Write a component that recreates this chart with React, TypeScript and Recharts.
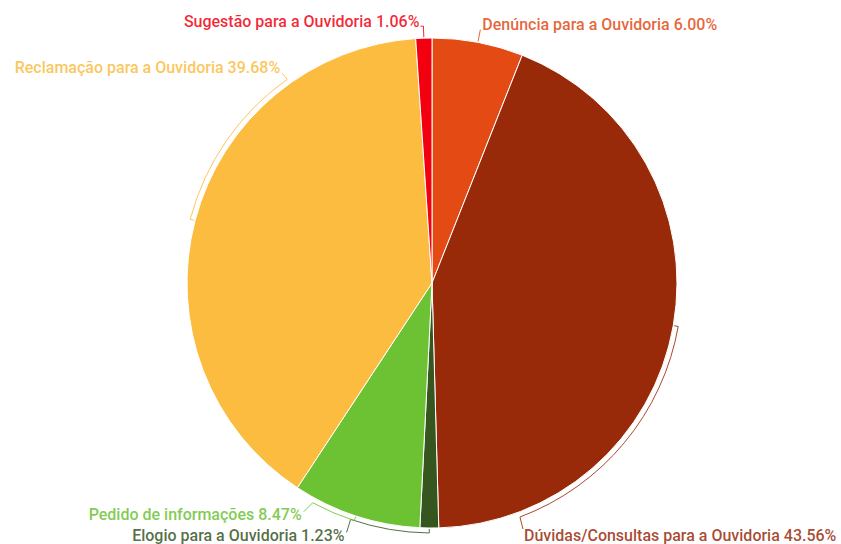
import React from 'react';
import { PieChart, Pie, Cell } from 'recharts';

const categories = [
  'Denúncia para a Ouvidoria',
  'Dúvidas/Consultas para a Ouvidoria',
  'Elogio para a Ouvidoria',
  'Pedido de informações',
  'Reclamação para a Ouvidoria',
  'Sugestão para a Ouvidoria',
];
const shares = [6.0, 43.56, 1.23, 8.47, 39.68, 1.06];
const sliceColors = ['#E34A14', '#982A0A', '#36561F', '#6CC233', '#FBBC40', '#F2000F'];

// label leader layout (angles clockwise from 12 o'clock)
const labelLayout = [
  { radial: 13, arcEnd: null, leader: [0, 0], text: [2, 0], anchor: 'start' },
  { radial: 5, arcEnd: 159.4, leader: [3, 12], text: [1, 12], anchor: 'start' },
  { radial: 5, arcEnd: 199, leader: [-4, 13], text: [-2, 9], anchor: 'end' },
  { radial: 5, arcEnd: 208.5, leader: [-9, 9], text: [-2, 8], anchor: 'end' },
  { radial: 5, arcEnd: 324.6, leader: [-5, -6], text: [-2, 0], anchor: 'end' },
  { radial: 12, arcEnd: null, leader: [-3, 0], text: [-1, 1], anchor: 'end' },
];

const data = categories.map((name, i) => ({ name, value: shares[i] }));

const pt = (cx: number, cy: number, r: number, deg: number) => {
  const a = (deg * Math.PI) / 180;
  return [cx + r * Math.sin(a), cy - r * Math.cos(a)];
};

const renderLabel = (props: any) => {
  const { cx, cy, midAngle, outerRadius, index } = props;
  const lay = labelLayout[index];
  const color = sliceColors[index];
  let theta = 90 - midAngle;
  theta = ((theta % 360) + 360) % 360;
  const r0 = outerRadius + 1;
  const R = outerRadius + lay.radial;
  const p0 = pt(cx, cy, r0, theta);
  const p1 = pt(cx, cy, R, theta);
  let d = `M${p0[0]},${p0[1]} L${p1[0]},${p1[1]}`;
  let end = p1;
  if (lay.arcEnd !== null) {
    const p2 = pt(cx, cy, R, lay.arcEnd as number);
    const sweep = (lay.arcEnd as number) > theta ? 1 : 0;
    const large = Math.abs((lay.arcEnd as number) - theta) > 180 ? 1 : 0;
    d += ` A${R},${R} 0 ${large} ${sweep} ${p2[0]},${p2[1]}`;
    end = p2;
  }
  const le = [end[0] + lay.leader[0], end[1] + lay.leader[1]];
  d += ` L${le[0]},${le[1]}`;
  const tx = le[0] + lay.text[0];
  const ty = le[1] + lay.text[1];
  return (
    <g key={`lbl-${index}`}>
      <path d={d} fill="none" stroke={color} strokeOpacity={0.85} strokeWidth={1} />
      <text
        x={tx}
        y={ty}
        textAnchor={lay.anchor}
        fill={color}
        fillOpacity={0.85}
        fontFamily="Roboto, sans-serif"
        fontSize={16}
        fontWeight={500}
      >
        {`${categories[index]} ${shares[index].toFixed(2)}%`}
      </text>
    </g>
  );
};

export default function App() {
  return (
    <div style={{ position: 'absolute', left: 0, top: 0, background: '#fff' }}>
      <PieChart width={841} height={544} margin={{ top: 0, right: 0, bottom: 0, left: 0 }}>
        <Pie
          data={data}
          dataKey="value"
          nameKey="name"
          cx={432}
          cy={283}
          outerRadius={245}
          startAngle={90}
          endAngle={-270}
          stroke="#ffffff"
          strokeWidth={1}
          label={renderLabel}
          labelLine={false}
          isAnimationActive={false}
        >
          {data.map((d, i) => (
            <Cell key={d.name} fill={sliceColors[i]} />
          ))}
        </Pie>
      </PieChart>
    </div>
  );
}
